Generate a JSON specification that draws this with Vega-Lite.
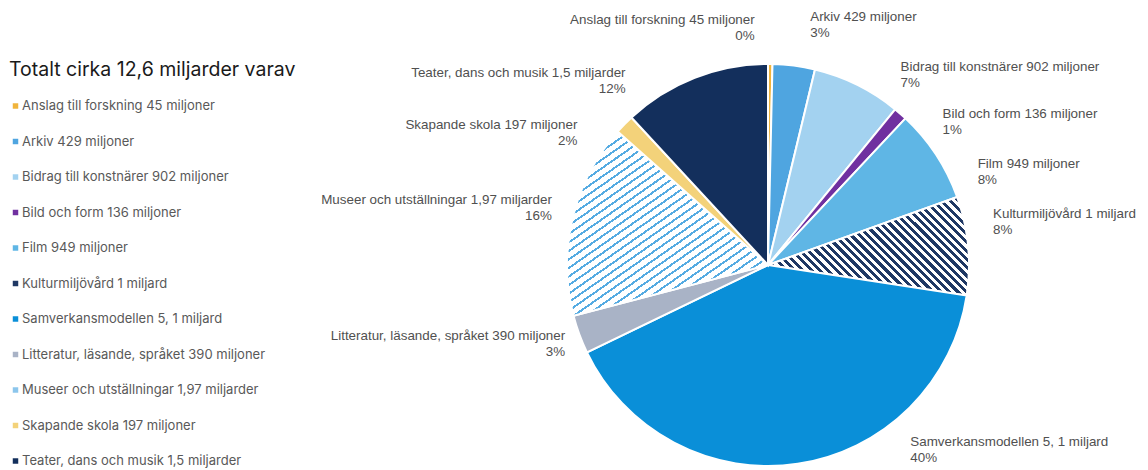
{
  "$schema": "https://vega.github.io/schema/vega-lite/v6.json",
  "width": 402,
  "height": 402,
  "autosize": {"type": "none"},
  "padding": {"left": 567, "top": 64, "right": 179, "bottom": 4},
  "background": "white",
  "data": {
    "values": [
      {"nr": 1, "namn": "Anslag till forskning 45 miljoner", "mn": 45, "etikett": "Anslag till forskning 45 miljoner\n0%"},
      {"nr": 2, "namn": "Arkiv 429 miljoner", "mn": 429, "etikett": "Arkiv  429 miljoner\n3%"},
      {"nr": 3, "namn": "Bidrag till konstnärer 902 miljoner", "mn": 902, "etikett": "Bidrag till konstnärer 902 miljoner\n7%"},
      {"nr": 4, "namn": "Bild och form 136 miljoner", "mn": 136, "etikett": "Bild och form 136 miljoner\n1%"},
      {"nr": 5, "namn": "Film 949 miljoner", "mn": 949, "etikett": "Film 949 miljoner\n8%"},
      {"nr": 6, "namn": "Kulturmiljövård 1 miljard", "mn": 1000, "etikett": "Kulturmiljövård 1 miljard\n8%"},
      {"nr": 7, "namn": "Samverkansmodellen 5, 1 miljard", "mn": 5100, "etikett": "Samverkansmodellen 5, 1 miljard\n40%"},
      {"nr": 8, "namn": "Litteratur, läsande, språket 390 miljoner", "mn": 390, "etikett": "Litteratur, läsande, språket 390 miljoner\n3%"},
      {"nr": 9, "namn": "Museer och utställningar 1,97 miljarder", "mn": 1970, "etikett": "Museer och utställningar 1,97 miljarder\n16%"},
      {"nr": 10, "namn": "Skapande skola 197 miljoner", "mn": 197, "etikett": "Skapande skola 197 miljoner\n2%"},
      {"nr": 11, "namn": "Teater, dans och musik 1,5 miljarder", "mn": 1500, "etikett": "Teater, dans och musik 1,5 miljarder\n12%"}
    ]
  },
  "encoding": {
    "theta": {"field": "mn", "type": "quantitative", "stack": true},
    "order": {"field": "nr", "type": "quantitative"}
  },
  "layer": [
    {
      "mark": {"type": "arc", "stroke": "white", "strokeWidth": 2},
      "encoding": {
        "color": {
          "field": "namn",
          "type": "nominal",
          "condition": [
            {
              "test": "datum.nr == 6",
              "value": {
                "gradient": "linear", "x1": 0, "y1": 1, "x2": 1.2015, "y2": 0.41,
                "stops": [
                  {"offset": 0, "color": "#1F3864"}, {"offset": 0.0139, "color": "#1F3864"},
                  {"offset": 0.0139, "color": "#FFFFFF"}, {"offset": 0.0278, "color": "#FFFFFF"},
                  {"offset": 0.0278, "color": "#1F3864"}, {"offset": 0.0417, "color": "#1F3864"},
                  {"offset": 0.0417, "color": "#FFFFFF"}, {"offset": 0.0556, "color": "#FFFFFF"},
                  {"offset": 0.0556, "color": "#1F3864"}, {"offset": 0.0694, "color": "#1F3864"},
                  {"offset": 0.0694, "color": "#FFFFFF"}, {"offset": 0.0833, "color": "#FFFFFF"},
                  {"offset": 0.0833, "color": "#1F3864"}, {"offset": 0.0972, "color": "#1F3864"},
                  {"offset": 0.0972, "color": "#FFFFFF"}, {"offset": 0.1111, "color": "#FFFFFF"},
                  {"offset": 0.1111, "color": "#1F3864"}, {"offset": 0.125, "color": "#1F3864"},
                  {"offset": 0.125, "color": "#FFFFFF"}, {"offset": 0.1389, "color": "#FFFFFF"},
                  {"offset": 0.1389, "color": "#1F3864"}, {"offset": 0.1528, "color": "#1F3864"},
                  {"offset": 0.1528, "color": "#FFFFFF"}, {"offset": 0.1667, "color": "#FFFFFF"},
                  {"offset": 0.1667, "color": "#1F3864"}, {"offset": 0.1806, "color": "#1F3864"},
                  {"offset": 0.1806, "color": "#FFFFFF"}, {"offset": 0.1944, "color": "#FFFFFF"},
                  {"offset": 0.1944, "color": "#1F3864"}, {"offset": 0.2083, "color": "#1F3864"},
                  {"offset": 0.2083, "color": "#FFFFFF"}, {"offset": 0.2222, "color": "#FFFFFF"},
                  {"offset": 0.2222, "color": "#1F3864"}, {"offset": 0.2361, "color": "#1F3864"},
                  {"offset": 0.2361, "color": "#FFFFFF"}, {"offset": 0.25, "color": "#FFFFFF"},
                  {"offset": 0.25, "color": "#1F3864"}, {"offset": 0.2639, "color": "#1F3864"},
                  {"offset": 0.2639, "color": "#FFFFFF"}, {"offset": 0.2778, "color": "#FFFFFF"},
                  {"offset": 0.2778, "color": "#1F3864"}, {"offset": 0.2917, "color": "#1F3864"},
                  {"offset": 0.2917, "color": "#FFFFFF"}, {"offset": 0.3056, "color": "#FFFFFF"},
                  {"offset": 0.3056, "color": "#1F3864"}, {"offset": 0.3194, "color": "#1F3864"},
                  {"offset": 0.3194, "color": "#FFFFFF"}, {"offset": 0.3333, "color": "#FFFFFF"},
                  {"offset": 0.3333, "color": "#1F3864"}, {"offset": 0.3472, "color": "#1F3864"},
                  {"offset": 0.3472, "color": "#FFFFFF"}, {"offset": 0.3611, "color": "#FFFFFF"},
                  {"offset": 0.3611, "color": "#1F3864"}, {"offset": 0.375, "color": "#1F3864"},
                  {"offset": 0.375, "color": "#FFFFFF"}, {"offset": 0.3889, "color": "#FFFFFF"},
                  {"offset": 0.3889, "color": "#1F3864"}, {"offset": 0.4028, "color": "#1F3864"},
                  {"offset": 0.4028, "color": "#FFFFFF"}, {"offset": 0.4167, "color": "#FFFFFF"},
                  {"offset": 0.4167, "color": "#1F3864"}, {"offset": 0.4306, "color": "#1F3864"},
                  {"offset": 0.4306, "color": "#FFFFFF"}, {"offset": 0.4444, "color": "#FFFFFF"},
                  {"offset": 0.4444, "color": "#1F3864"}, {"offset": 0.4583, "color": "#1F3864"},
                  {"offset": 0.4583, "color": "#FFFFFF"}, {"offset": 0.4722, "color": "#FFFFFF"},
                  {"offset": 0.4722, "color": "#1F3864"}, {"offset": 0.4861, "color": "#1F3864"},
                  {"offset": 0.4861, "color": "#FFFFFF"}, {"offset": 0.5, "color": "#FFFFFF"},
                  {"offset": 0.5, "color": "#1F3864"}, {"offset": 0.5139, "color": "#1F3864"},
                  {"offset": 0.5139, "color": "#FFFFFF"}, {"offset": 0.5278, "color": "#FFFFFF"},
                  {"offset": 0.5278, "color": "#1F3864"}, {"offset": 0.5417, "color": "#1F3864"},
                  {"offset": 0.5417, "color": "#FFFFFF"}, {"offset": 0.5556, "color": "#FFFFFF"},
                  {"offset": 0.5556, "color": "#1F3864"}, {"offset": 0.5694, "color": "#1F3864"},
                  {"offset": 0.5694, "color": "#FFFFFF"}, {"offset": 0.5833, "color": "#FFFFFF"},
                  {"offset": 0.5833, "color": "#1F3864"}, {"offset": 0.5972, "color": "#1F3864"},
                  {"offset": 0.5972, "color": "#FFFFFF"}, {"offset": 0.6111, "color": "#FFFFFF"},
                  {"offset": 0.6111, "color": "#1F3864"}, {"offset": 0.625, "color": "#1F3864"},
                  {"offset": 0.625, "color": "#FFFFFF"}, {"offset": 0.6389, "color": "#FFFFFF"},
                  {"offset": 0.6389, "color": "#1F3864"}, {"offset": 0.6528, "color": "#1F3864"},
                  {"offset": 0.6528, "color": "#FFFFFF"}, {"offset": 0.6667, "color": "#FFFFFF"},
                  {"offset": 0.6667, "color": "#1F3864"}, {"offset": 0.6806, "color": "#1F3864"},
                  {"offset": 0.6806, "color": "#FFFFFF"}, {"offset": 0.6944, "color": "#FFFFFF"},
                  {"offset": 0.6944, "color": "#1F3864"}, {"offset": 0.7083, "color": "#1F3864"},
                  {"offset": 0.7083, "color": "#FFFFFF"}, {"offset": 0.7222, "color": "#FFFFFF"},
                  {"offset": 0.7222, "color": "#1F3864"}, {"offset": 0.7361, "color": "#1F3864"},
                  {"offset": 0.7361, "color": "#FFFFFF"}, {"offset": 0.75, "color": "#FFFFFF"},
                  {"offset": 0.75, "color": "#1F3864"}, {"offset": 0.7639, "color": "#1F3864"},
                  {"offset": 0.7639, "color": "#FFFFFF"}, {"offset": 0.7778, "color": "#FFFFFF"},
                  {"offset": 0.7778, "color": "#1F3864"}, {"offset": 0.7917, "color": "#1F3864"},
                  {"offset": 0.7917, "color": "#FFFFFF"}, {"offset": 0.8056, "color": "#FFFFFF"},
                  {"offset": 0.8056, "color": "#1F3864"}, {"offset": 0.8194, "color": "#1F3864"},
                  {"offset": 0.8194, "color": "#FFFFFF"}, {"offset": 0.8333, "color": "#FFFFFF"},
                  {"offset": 0.8333, "color": "#1F3864"}, {"offset": 0.8472, "color": "#1F3864"},
                  {"offset": 0.8472, "color": "#FFFFFF"}, {"offset": 0.8611, "color": "#FFFFFF"},
                  {"offset": 0.8611, "color": "#1F3864"}, {"offset": 0.875, "color": "#1F3864"},
                  {"offset": 0.875, "color": "#FFFFFF"}, {"offset": 0.8889, "color": "#FFFFFF"},
                  {"offset": 0.8889, "color": "#1F3864"}, {"offset": 0.9028, "color": "#1F3864"},
                  {"offset": 0.9028, "color": "#FFFFFF"}, {"offset": 0.9167, "color": "#FFFFFF"},
                  {"offset": 0.9167, "color": "#1F3864"}, {"offset": 0.9306, "color": "#1F3864"},
                  {"offset": 0.9306, "color": "#FFFFFF"}, {"offset": 0.9444, "color": "#FFFFFF"},
                  {"offset": 0.9444, "color": "#1F3864"}, {"offset": 0.9583, "color": "#1F3864"},
                  {"offset": 0.9583, "color": "#FFFFFF"}, {"offset": 0.9722, "color": "#FFFFFF"},
                  {"offset": 0.9722, "color": "#1F3864"}, {"offset": 0.9861, "color": "#1F3864"},
                  {"offset": 0.9861, "color": "#FFFFFF"}, {"offset": 1, "color": "#FFFFFF"}
                ]
              }
            },
            {
              "test": "datum.nr == 9",
              "value": {
                "gradient": "linear", "x1": 0, "y1": 0, "x2": 0.848, "y2": 1.115,
                "stops": [
                  {"offset": 0, "color": "#55ABE2"}, {"offset": 0.0074, "color": "#55ABE2"}, {"offset": 0.0074, "color": "#FFFFFF"}, {"offset": 0.0263, "color": "#FFFFFF"},
                  {"offset": 0.0263, "color": "#55ABE2"}, {"offset": 0.0337, "color": "#55ABE2"}, {"offset": 0.0337, "color": "#FFFFFF"}, {"offset": 0.0526, "color": "#FFFFFF"},
                  {"offset": 0.0526, "color": "#55ABE2"}, {"offset": 0.06, "color": "#55ABE2"}, {"offset": 0.06, "color": "#FFFFFF"}, {"offset": 0.0789, "color": "#FFFFFF"},
                  {"offset": 0.0789, "color": "#55ABE2"}, {"offset": 0.0863, "color": "#55ABE2"}, {"offset": 0.0863, "color": "#FFFFFF"}, {"offset": 0.1053, "color": "#FFFFFF"},
                  {"offset": 0.1053, "color": "#55ABE2"}, {"offset": 0.1127, "color": "#55ABE2"}, {"offset": 0.1127, "color": "#FFFFFF"}, {"offset": 0.1316, "color": "#FFFFFF"},
                  {"offset": 0.1316, "color": "#55ABE2"}, {"offset": 0.139, "color": "#55ABE2"}, {"offset": 0.139, "color": "#FFFFFF"}, {"offset": 0.1579, "color": "#FFFFFF"},
                  {"offset": 0.1579, "color": "#55ABE2"}, {"offset": 0.1653, "color": "#55ABE2"}, {"offset": 0.1653, "color": "#FFFFFF"}, {"offset": 0.1842, "color": "#FFFFFF"},
                  {"offset": 0.1842, "color": "#55ABE2"}, {"offset": 0.1916, "color": "#55ABE2"}, {"offset": 0.1916, "color": "#FFFFFF"}, {"offset": 0.2105, "color": "#FFFFFF"},
                  {"offset": 0.2105, "color": "#55ABE2"}, {"offset": 0.2179, "color": "#55ABE2"}, {"offset": 0.2179, "color": "#FFFFFF"}, {"offset": 0.2368, "color": "#FFFFFF"},
                  {"offset": 0.2368, "color": "#55ABE2"}, {"offset": 0.2442, "color": "#55ABE2"}, {"offset": 0.2442, "color": "#FFFFFF"}, {"offset": 0.2632, "color": "#FFFFFF"},
                  {"offset": 0.2632, "color": "#55ABE2"}, {"offset": 0.2706, "color": "#55ABE2"}, {"offset": 0.2706, "color": "#FFFFFF"}, {"offset": 0.2895, "color": "#FFFFFF"},
                  {"offset": 0.2895, "color": "#55ABE2"}, {"offset": 0.2969, "color": "#55ABE2"}, {"offset": 0.2969, "color": "#FFFFFF"}, {"offset": 0.3158, "color": "#FFFFFF"},
                  {"offset": 0.3158, "color": "#55ABE2"}, {"offset": 0.3232, "color": "#55ABE2"}, {"offset": 0.3232, "color": "#FFFFFF"}, {"offset": 0.3421, "color": "#FFFFFF"},
                  {"offset": 0.3421, "color": "#55ABE2"}, {"offset": 0.3495, "color": "#55ABE2"}, {"offset": 0.3495, "color": "#FFFFFF"}, {"offset": 0.3684, "color": "#FFFFFF"},
                  {"offset": 0.3684, "color": "#55ABE2"}, {"offset": 0.3758, "color": "#55ABE2"}, {"offset": 0.3758, "color": "#FFFFFF"}, {"offset": 0.3947, "color": "#FFFFFF"},
                  {"offset": 0.3947, "color": "#55ABE2"}, {"offset": 0.4021, "color": "#55ABE2"}, {"offset": 0.4021, "color": "#FFFFFF"}, {"offset": 0.4211, "color": "#FFFFFF"},
                  {"offset": 0.4211, "color": "#55ABE2"}, {"offset": 0.4285, "color": "#55ABE2"}, {"offset": 0.4285, "color": "#FFFFFF"}, {"offset": 0.4474, "color": "#FFFFFF"},
                  {"offset": 0.4474, "color": "#55ABE2"}, {"offset": 0.4548, "color": "#55ABE2"}, {"offset": 0.4548, "color": "#FFFFFF"}, {"offset": 0.4737, "color": "#FFFFFF"},
                  {"offset": 0.4737, "color": "#55ABE2"}, {"offset": 0.4811, "color": "#55ABE2"}, {"offset": 0.4811, "color": "#FFFFFF"}, {"offset": 0.5, "color": "#FFFFFF"},
                  {"offset": 0.5, "color": "#55ABE2"}, {"offset": 0.5074, "color": "#55ABE2"}, {"offset": 0.5074, "color": "#FFFFFF"}, {"offset": 0.5263, "color": "#FFFFFF"},
                  {"offset": 0.5263, "color": "#55ABE2"}, {"offset": 0.5337, "color": "#55ABE2"}, {"offset": 0.5337, "color": "#FFFFFF"}, {"offset": 0.5526, "color": "#FFFFFF"},
                  {"offset": 0.5526, "color": "#55ABE2"}, {"offset": 0.56, "color": "#55ABE2"}, {"offset": 0.56, "color": "#FFFFFF"}, {"offset": 0.5789, "color": "#FFFFFF"},
                  {"offset": 0.5789, "color": "#55ABE2"}, {"offset": 0.5863, "color": "#55ABE2"}, {"offset": 0.5863, "color": "#FFFFFF"}, {"offset": 0.6053, "color": "#FFFFFF"},
                  {"offset": 0.6053, "color": "#55ABE2"}, {"offset": 0.6127, "color": "#55ABE2"}, {"offset": 0.6127, "color": "#FFFFFF"}, {"offset": 0.6316, "color": "#FFFFFF"},
                  {"offset": 0.6316, "color": "#55ABE2"}, {"offset": 0.639, "color": "#55ABE2"}, {"offset": 0.639, "color": "#FFFFFF"}, {"offset": 0.6579, "color": "#FFFFFF"},
                  {"offset": 0.6579, "color": "#55ABE2"}, {"offset": 0.6653, "color": "#55ABE2"}, {"offset": 0.6653, "color": "#FFFFFF"}, {"offset": 0.6842, "color": "#FFFFFF"},
                  {"offset": 0.6842, "color": "#55ABE2"}, {"offset": 0.6916, "color": "#55ABE2"}, {"offset": 0.6916, "color": "#FFFFFF"}, {"offset": 0.7105, "color": "#FFFFFF"},
                  {"offset": 0.7105, "color": "#55ABE2"}, {"offset": 0.7179, "color": "#55ABE2"}, {"offset": 0.7179, "color": "#FFFFFF"}, {"offset": 0.7368, "color": "#FFFFFF"},
                  {"offset": 0.7368, "color": "#55ABE2"}, {"offset": 0.7442, "color": "#55ABE2"}, {"offset": 0.7442, "color": "#FFFFFF"}, {"offset": 0.7632, "color": "#FFFFFF"},
                  {"offset": 0.7632, "color": "#55ABE2"}, {"offset": 0.7706, "color": "#55ABE2"}, {"offset": 0.7706, "color": "#FFFFFF"}, {"offset": 0.7895, "color": "#FFFFFF"},
                  {"offset": 0.7895, "color": "#55ABE2"}, {"offset": 0.7969, "color": "#55ABE2"}, {"offset": 0.7969, "color": "#FFFFFF"}, {"offset": 0.8158, "color": "#FFFFFF"},
                  {"offset": 0.8158, "color": "#55ABE2"}, {"offset": 0.8232, "color": "#55ABE2"}, {"offset": 0.8232, "color": "#FFFFFF"}, {"offset": 0.8421, "color": "#FFFFFF"},
                  {"offset": 0.8421, "color": "#55ABE2"}, {"offset": 0.8495, "color": "#55ABE2"}, {"offset": 0.8495, "color": "#FFFFFF"}, {"offset": 0.8684, "color": "#FFFFFF"},
                  {"offset": 0.8684, "color": "#55ABE2"}, {"offset": 0.8758, "color": "#55ABE2"}, {"offset": 0.8758, "color": "#FFFFFF"}, {"offset": 0.8947, "color": "#FFFFFF"},
                  {"offset": 0.8947, "color": "#55ABE2"}, {"offset": 0.9021, "color": "#55ABE2"}, {"offset": 0.9021, "color": "#FFFFFF"}, {"offset": 0.9211, "color": "#FFFFFF"},
                  {"offset": 0.9211, "color": "#55ABE2"}, {"offset": 0.9285, "color": "#55ABE2"}, {"offset": 0.9285, "color": "#FFFFFF"}, {"offset": 0.9474, "color": "#FFFFFF"},
                  {"offset": 0.9474, "color": "#55ABE2"}, {"offset": 0.9548, "color": "#55ABE2"}, {"offset": 0.9548, "color": "#FFFFFF"}, {"offset": 0.9737, "color": "#FFFFFF"},
                  {"offset": 0.9737, "color": "#55ABE2"}, {"offset": 0.9811, "color": "#55ABE2"}, {"offset": 0.9811, "color": "#FFFFFF"}, {"offset": 1, "color": "#FFFFFF"}
                ]
              }
            }
          ],
          "scale": {
            "domain": [
              "Anslag till forskning 45 miljoner",
              "Arkiv 429 miljoner",
              "Bidrag till konstnärer 902 miljoner",
              "Bild och form 136 miljoner",
              "Film 949 miljoner",
              "Kulturmiljövård 1 miljard",
              "Samverkansmodellen 5, 1 miljard",
              "Litteratur, läsande, språket 390 miljoner",
              "Museer och utställningar 1,97 miljarder",
              "Skapande skola 197 miljoner",
              "Teater, dans och musik 1,5 miljarder"
            ],
            "range": ["#F0B43C", "#4FA5E0", "#A3D2F0", "#7030A0", "#5FB6E5", "#1F3864", "#0A8FD8", "#A9B3C6", "#8CC6EC", "#F3D27A", "#132F5C"]
          },
          "legend": {
            "orient": "none",
            "legendX": -558,
            "legendY": -3,
            "padding": 0,
            "title": "Totalt cirka 12,6 miljarder varav",
            "titleFont": "Inter",
            "titleFontSize": 19.5,
            "titleFontWeight": "normal",
            "titleColor": "#1a1a1a",
            "titleLimit": 500,
            "titlePadding": 19,
            "symbolType": "square",
            "symbolSize": 30,
            "symbolStrokeWidth": 0,
            "labelFont": "Inter",
            "labelFontSize": 13,
            "labelColor": "#595959",
            "labelLimit": 500,
            "labelOffset": 0,
            "rowPadding": 21.5
          }
        }
      }
    },
    {"mark": {"type": "text", "radius": 242, "align": "right", "dx": -16, "dy": -3},
     "encoding": {"text": {"condition": {"test": "datum.nr == 1", "field": "etikett", "type": "nominal"}, "value": ""}}},
    {"mark": {"type": "text", "radius": 250, "align": "left", "dx": 10, "dy": 0},
     "encoding": {"text": {"condition": {"test": "datum.nr == 2", "field": "etikett", "type": "nominal"}, "value": ""}}},
    {"mark": {"type": "text", "radius": 215, "align": "left", "dx": 37, "dy": -5},
     "encoding": {"text": {"condition": {"test": "datum.nr == 3", "field": "etikett", "type": "nominal"}, "value": ""}}},
    {"mark": {"type": "text", "radius": 215, "align": "left", "dx": 33, "dy": 11},
     "encoding": {"text": {"condition": {"test": "datum.nr == 4", "field": "etikett", "type": "nominal"}, "value": ""}}},
    {"mark": {"type": "text", "radius": 215, "align": "left", "dx": 30, "dy": 17},
     "encoding": {"text": {"condition": {"test": "datum.nr == 5", "field": "etikett", "type": "nominal"}, "value": ""}}},
    {"mark": {"type": "text", "radius": 215, "align": "left", "dx": 11, "dy": -30},
     "encoding": {"text": {"condition": {"test": "datum.nr == 6", "field": "etikett", "type": "nominal"}, "value": ""}}},
    {"mark": {"type": "text", "radius": 205, "align": "left", "dx": 112, "dy": -26},
     "encoding": {"text": {"condition": {"test": "datum.nr == 7", "field": "etikett", "type": "nominal"}, "value": ""}}},
    {"mark": {"type": "text", "radius": 215, "align": "right", "dx": -1, "dy": -3},
     "encoding": {"text": {"condition": {"test": "datum.nr == 8", "field": "etikett", "type": "nominal"}, "value": ""}}},
    {"mark": {"type": "text", "radius": 215, "align": "right", "dx": -7, "dy": -15},
     "encoding": {"text": {"condition": {"test": "datum.nr == 9", "field": "etikett", "type": "nominal"}, "value": ""}}},
    {"mark": {"type": "text", "radius": 215, "align": "right", "dx": -37, "dy": 10},
     "encoding": {"text": {"condition": {"test": "datum.nr == 10", "field": "etikett", "type": "nominal"}, "value": ""}}},
    {"mark": {"type": "text", "radius": 215, "align": "right", "dx": -64, "dy": 8},
     "encoding": {"text": {"condition": {"test": "datum.nr == 11", "field": "etikett", "type": "nominal"}, "value": ""}}}
  ],
  "config": {
    "view": {"stroke": null},
    "text": {"baseline": "middle", "lineBreak": "\n", "font": "Liberation Sans", "fontSize": 13.4, "fill": "#505050", "lineHeight": 16}
  }
}
